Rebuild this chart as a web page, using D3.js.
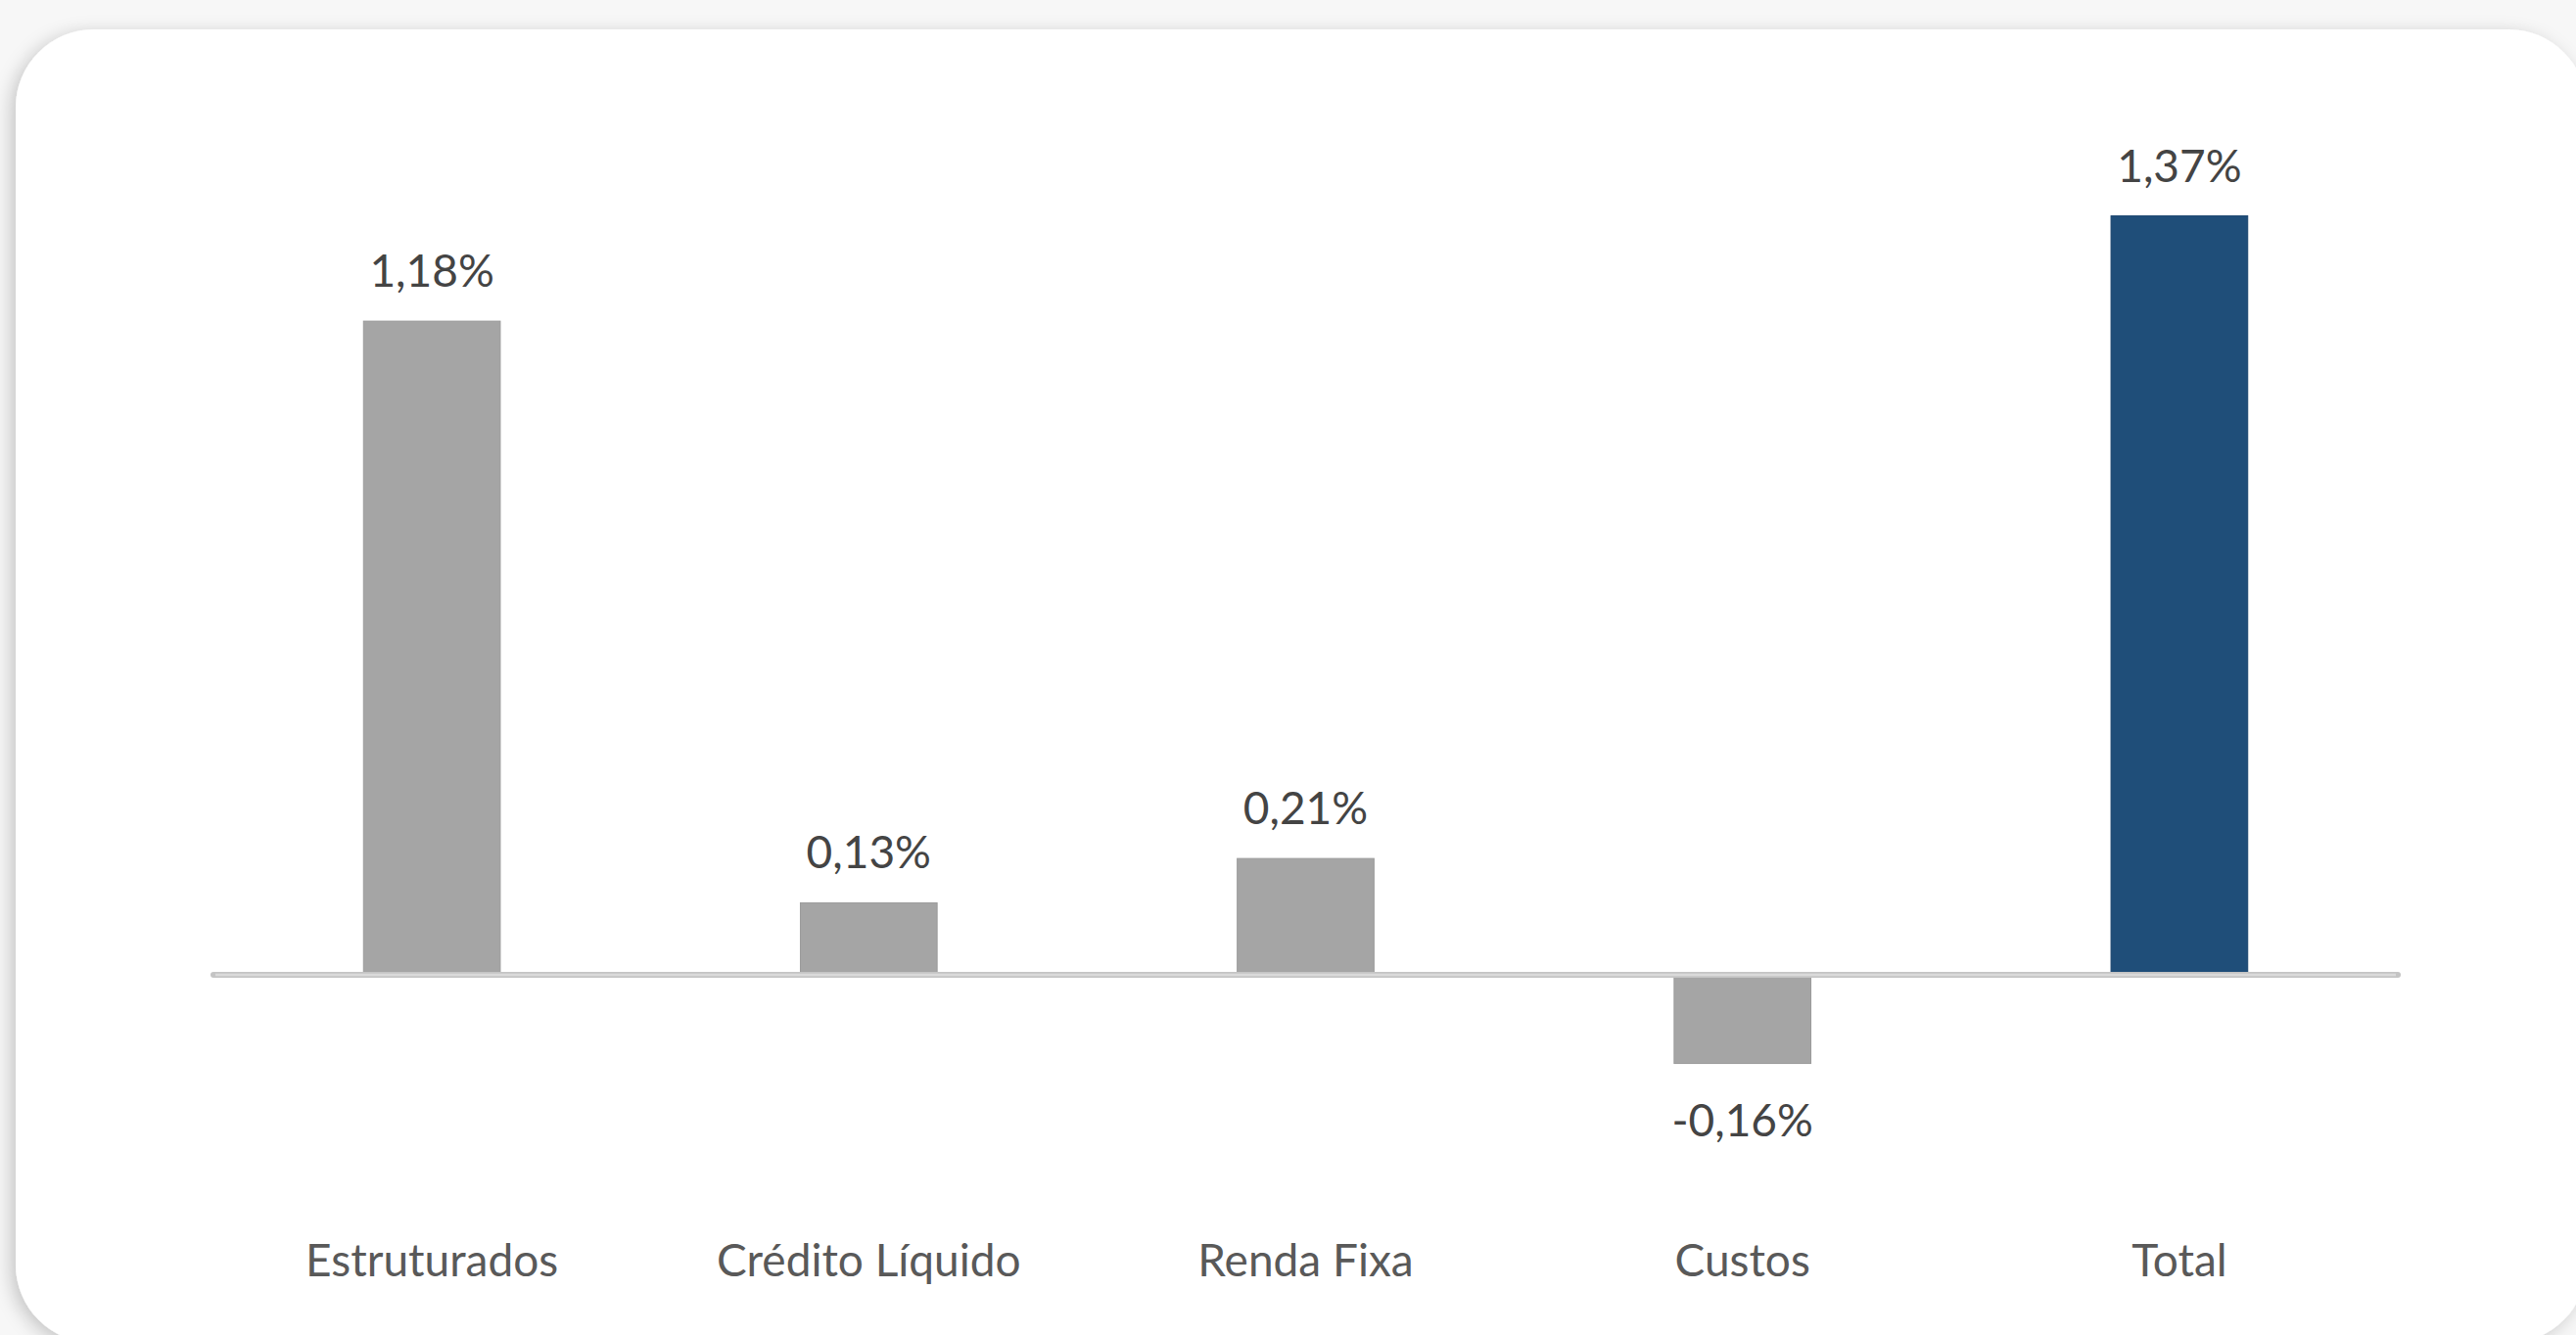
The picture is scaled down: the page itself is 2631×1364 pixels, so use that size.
<!DOCTYPE html>
<html>
<head>
<meta charset="utf-8">
<script src="https://cdn.jsdelivr.net/npm/d3@7"></script>
<style>
  html, body { margin: 0; padding: 0; background: #f7f7f7; overflow: hidden; }
  svg { display: block; }
</style>
</head>
<body>
<svg id="chart" width="2631" height="1364"></svg>
<script>
const categories = ["Estruturados", "Crédito Líquido", "Renda Fixa", "Custos", "Total"];
const values = [1.18, 0.13, 0.21, -0.16, 1.37];
const valueLabels = ["1,18%", "0,13%", "0,21%", "-0,16%", "1,37%"];
const barColors = ["#a5a5a5", "#a5a5a5", "#a5a5a5", "#a5a5a5", "#1f4e79"];

const svg = d3.select("#chart");
const defs = svg.append("defs");
const f = defs.append("filter").attr("id", "shadow")
  .attr("x", "-5%").attr("y", "-5%").attr("width", "110%").attr("height", "110%");
f.append("feDropShadow").attr("dx", -5).attr("dy", 4).attr("stdDeviation", 9)
  .attr("flood-color", "#000").attr("flood-opacity", 0.2);

svg.append("rect")
  .attr("x", 16).attr("y", 30).attr("width", 2626).attr("height", 1342)
  .attr("rx", 80).attr("ry", 80)
  .attr("fill", "#ffffff")
  .attr("filter", "url(#shadow)");

const x = d3.scaleBand()
  .domain(categories)
  .range([218, 2449])
  .paddingInner(0.687)
  .paddingOuter(0.687 / 2);

const y = d3.scaleLinear().domain([0, 1]).range([996, 430]);

const g = svg.append("g");

g.selectAll("rect.bar")
  .data(categories)
  .join("rect")
  .attr("class", "bar")
  .attr("x", d => x(d))
  .attr("width", x.bandwidth())
  .attr("y", (d, i) => Math.min(y(values[i]), y(0)))
  .attr("height", (d, i) => Math.abs(y(values[i]) - y(0)))
  .attr("fill", (d, i) => barColors[i])
  .attr("stroke", (d, i) => i === 4 ? "#1c4670" : "#9a9a9a")
  .attr("stroke-width", 1);

// zero line
g.append("line")
  .attr("x1", x.range()[0]).attr("x2", x.range()[1])
  .attr("y1", y(0)).attr("y2", y(0))
  .attr("stroke", "#c4c4c4").attr("stroke-width", 6).attr("stroke-linecap", "round");
g.append("line")
  .attr("x1", x.range()[0] + 2).attr("x2", x.range()[1] - 2)
  .attr("y1", y(0)).attr("y2", y(0))
  .attr("stroke", "#dadada").attr("stroke-width", 2.5);

// value labels
g.selectAll("text.val")
  .data(categories)
  .join("text")
  .attr("class", "val")
  .attr("x", d => x(d) + x.bandwidth() / 2)
  .attr("y", (d, i) => values[i] >= 0 ? y(values[i]) - 35 : y(values[i]) + 74)
  .attr("text-anchor", "middle")
  .attr("font-family", "Lato, sans-serif")
  .attr("font-size", 46)
  .attr("fill", "#444444")
  .text((d, i) => valueLabels[i]);

// category axis labels
const axis = d3.axisBottom(x).tickSize(0).tickPadding(0);
const ax = g.append("g").attr("transform", "translate(0,1304)").call(axis);
ax.select(".domain").remove();
ax.selectAll("text")
  .attr("dy", 0)
  .attr("y", 0)
  .attr("font-family", "Lato, sans-serif")
  .attr("font-size", 46)
  .attr("fill", "#595959");
</script>
</body>
</html>
